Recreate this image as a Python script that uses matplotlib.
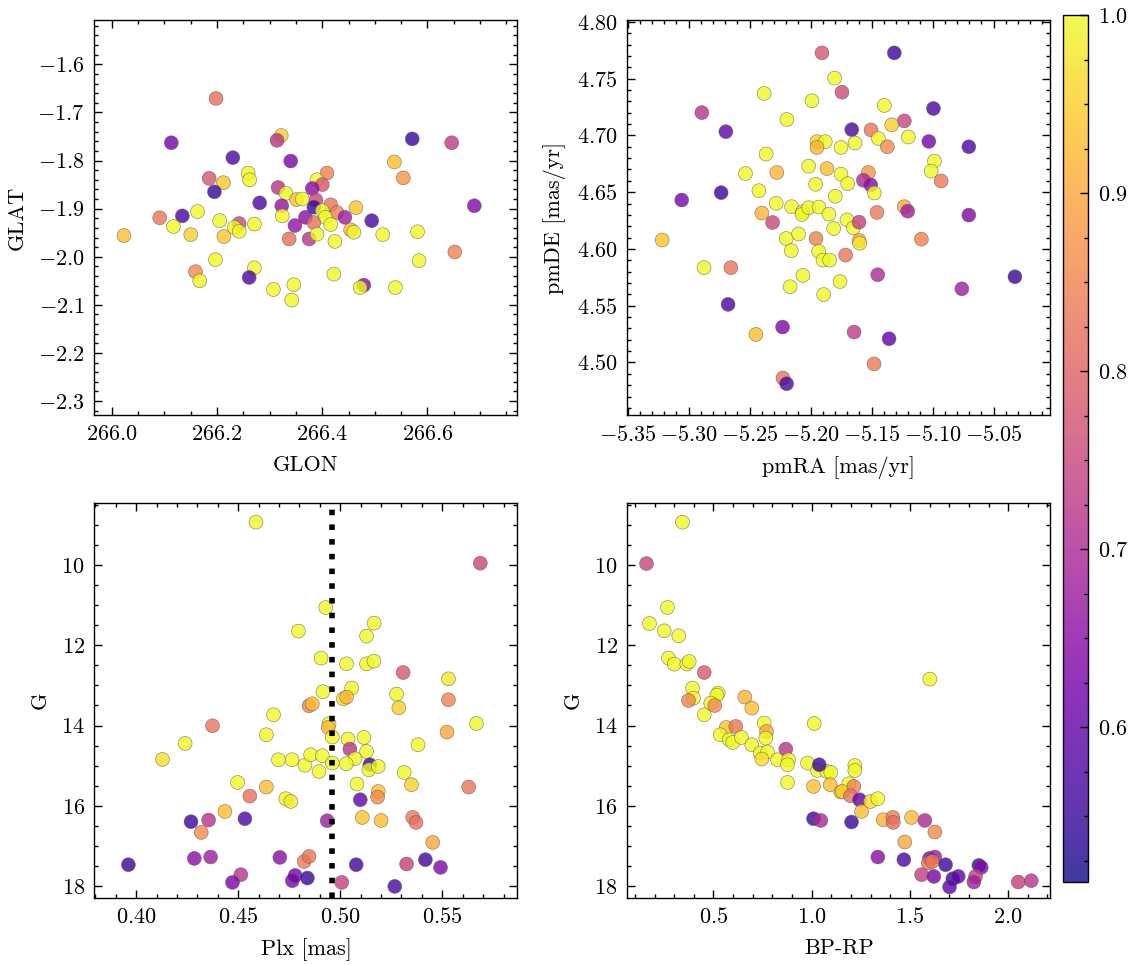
import matplotlib
matplotlib.use("Agg")
import matplotlib.pyplot as plt
from matplotlib.ticker import MultipleLocator

plt.rcParams.update({
    'font.family': 'serif',
    'font.serif': ['cmr10'],
    'mathtext.fontset': 'cm',
    'axes.formatter.use_mathtext': True,
    'font.size': 8,
    'axes.linewidth': 0.5,
    'xtick.direction': 'in', 'ytick.direction': 'in',
    'xtick.top': True, 'ytick.right': True,
    'xtick.minor.visible': True, 'ytick.minor.visible': True,
    'xtick.major.size': 3, 'ytick.major.size': 3,
    'xtick.minor.size': 1.5, 'ytick.minor.size': 1.5,
    'xtick.major.width': 0.5, 'ytick.major.width': 0.5,
    'xtick.minor.width': 0.5, 'ytick.minor.width': 0.5,
})

# --- sky positions (GLON / GLAT) ---
glon = [266.198, 266.113, 266.230, 266.322, 266.314, 266.340, 266.259, 266.262, 266.185, 266.212,
        266.195, 266.281, 266.316, 266.331, 266.351, 266.323, 266.324, 266.163, 266.134, 266.091,
        266.117, 266.023, 266.150, 266.205, 266.213, 266.242, 266.233, 266.242, 266.271, 266.337,
        266.348, 266.197, 266.159, 266.167, 266.271, 266.261, 266.307, 266.346, 266.342,
        266.571, 266.646, 266.537, 266.554, 266.689, 266.409, 266.390, 266.400, 266.381, 266.362,
        266.388, 266.384, 266.416, 266.428, 266.464, 266.400, 266.406, 266.368, 266.384, 266.416,
        266.443, 266.454, 266.460, 266.494, 266.375, 266.390, 266.424, 266.515, 266.581, 266.652,
        266.584, 266.422, 266.479, 266.472, 266.539]
glat = [-1.671, -1.763, -1.794, -1.748, -1.758, -1.801, -1.826, -1.840, -1.837, -1.846,
        -1.865, -1.888, -1.856, -1.868, -1.881, -1.894, -1.915, -1.906, -1.915, -1.919,
        -1.937, -1.956, -1.954, -1.925, -1.958, -1.931, -1.939, -1.947, -1.932, -1.963,
        -1.935, -2.006, -2.031, -2.050, -2.023, -2.043, -2.068, -2.058, -2.090,
        -1.755, -1.763, -1.803, -1.836, -1.894, -1.826, -1.840, -1.850, -1.858, -1.880,
        -1.882, -1.897, -1.892, -1.908, -1.898, -1.904, -1.918, -1.918, -1.929, -1.933,
        -1.918, -1.944, -1.949, -1.925, -1.963, -1.953, -1.968, -1.954, -1.948, -1.990,
        -2.008, -2.036, -2.059, -2.064, -2.064]
p_pos = [.82, .62, .57, .95, .72, .63, 1.0, 1.0, .78, .94,
         .55, .57, .72, 1.0, .93, .66, 1.0, 1.0, .57, .83,
         1.0, .93, .95, 1.0, .94, .75, 1.0, 1.0, 1.0, .82,
         .66, 1.0, .86, 1.0, 1.0, .57, 1.0, 1.0, 1.0,
         .55, .73, .93, .88, .64, .85, 1.0, .78, .65, 1.0,
         .75, .55, .83, .85, .94, 1.0, 1.0, .65, .82, 1.0,
         .68, .92, 1.0, .57, .72, 1.0, 1.0, 1.0, 1.0, .85,
         1.0, 1.0, .65, 1.0, 1.0]

# --- proper motions ---
pmra = [-5.1907, -5.1803, -5.1743, -5.2381, -5.1989, -5.2892, -5.2195, -5.2695, -5.1948, -5.1880,
        -5.1948, -5.1751, -5.2365, -5.2277, -5.2534, -5.2016, -5.1866, -5.1751, -5.1959, -5.2734,
        -5.3057, -5.2424, -5.1798, -5.2282, -5.2156, -5.2066, -5.2071, -5.2016, -5.1932, -5.1850,
        -5.2400, -5.2312, -5.1811, -5.3218, -5.2200, -5.2099, -5.2159, -5.1956, -5.1934, -5.1899,
        -5.1844, -5.1713, -5.2874, -5.2654, -5.2063, -5.2168, -5.1893, -5.1759, -5.2677, -5.2230,
        -5.2449, -5.2227, -5.2197,
        -5.1314, -5.1396, -5.1232, -5.1335, -5.0993, -5.1663, -5.1505, -5.1445, -5.1371, -5.1199,
        -5.1031, -5.0703, -5.1636, -5.0985, -5.1012, -5.0930, -5.1527, -5.1568, -5.1507, -5.1478,
        -5.1696, -5.1456, -5.1232, -5.1204, -5.0703, -5.1702, -5.1650, -5.1603, -5.1603, -5.1598,
        -5.1092, -5.1450, -5.0325, -5.0760, -5.1644, -5.1357, -5.1480]
pmde = [4.7727, 4.7505, 4.7381, 4.7370, 4.7305, 4.7201, 4.7140, 4.7033, 4.6945, 4.6945,
        4.6894, 4.6894, 4.6836, 4.6673, 4.6664, 4.6729, 4.6708, 4.6659, 4.6570, 4.6496,
        4.6431, 4.6513, 4.6464, 4.6402, 4.6372, 4.6327, 4.6304, 4.6363, 4.6369, 4.6307,
        4.6316, 4.6233, 4.6180, 4.6079, 4.6092, 4.6132, 4.5985, 4.6092, 4.5979, 4.5902,
        4.5902, 4.5946, 4.5835, 4.5835, 4.5767, 4.5667, 4.5598, 4.5713, 4.5512, 4.5312,
        4.5247, 4.4863, 4.4813,
        4.7727, 4.7264, 4.7128, 4.7093, 4.7237, 4.7051, 4.7048, 4.6974, 4.6900, 4.6986,
        4.6947, 4.6900, 4.6933, 4.6774, 4.6685, 4.6599, 4.6673, 4.6605, 4.6564, 4.6493,
        4.6575, 4.6322, 4.6372, 4.6333, 4.6298, 4.6256, 4.6186, 4.6236, 4.6074, 4.6050,
        4.6086, 4.5773, 4.5755, 4.5649, 4.5268, 4.5209, 4.4987]
p_pm = [.78, 1.0, .76, 1.0, 1.0, .72, 1.0, .60, .95, 1.0,
        .92, 1.0, 1.0, .92, 1.0, 1.0, .93, 1.0, 1.0, .55,
        .63, 1.0, 1.0, 1.0, 1.0, 1.0, 1.0, 1.0, 1.0, 1.0,
        .92, .75, 1.0, .94, 1.0, 1.0, 1.0, .85, 1.0, 1.0,
        1.0, .83, 1.0, .83, 1.0, 1.0, 1.0, 1.0, .57, .64,
        .93, .83, .57,
        .55, 1.0, .75, .95, .57, .57, .83, 1.0, .86, 1.0,
        .63, .57, 1.0, 1.0, 1.0, .84, .88, .70, .65, 1.0,
        1.0, .84, .90, .68, .64, 1.0, 1.0, .74, .90, .98,
        .85, .70, .55, .68, .73, .60, .84]

# --- parallax vs G ---
plx = [0.4587, 0.4795, 0.4847, 0.4673, 0.4374, 0.4638, 0.4240, 0.4129, 0.4697, 0.4764,
       0.4827, 0.4497, 0.4638, 0.4557, 0.4733, 0.4758, 0.4435, 0.4269, 0.4355, 0.4533,
       0.4319, 0.3962, 0.4285, 0.4365, 0.4704, 0.4513, 0.4472, 0.4779, 0.4765, 0.4839,
       0.4823, 0.4847,
       0.5686, 0.4929, 0.5166, 0.5129, 0.4906, 0.5031, 0.5129, 0.5165, 0.5308, 0.5530,
       0.4915, 0.5056, 0.5015, 0.5031, 0.4863, 0.5276, 0.5287, 0.5530, 0.5667, 0.5523,
       0.4945, 0.4941, 0.4961, 0.5038, 0.5116, 0.5047, 0.5129, 0.5072, 0.4855, 0.4912,
       0.4896, 0.4961, 0.5029, 0.5145, 0.5140, 0.5186, 0.5381, 0.5313, 0.5349, 0.5082,
       0.5186, 0.5183, 0.5098, 0.5629, 0.4936, 0.5108, 0.5200, 0.5355, 0.5371, 0.5453,
       0.5078, 0.5325, 0.5417, 0.5491, 0.5007, 0.5267]
g_plx = [8.938, 11.649, 13.507, 13.731, 14.005, 14.229, 14.445, 14.843, 14.851, 14.851,
         14.988, 15.415, 15.530, 15.754, 15.821, 15.888, 16.137, 16.393, 16.351, 16.318,
         16.659, 17.463, 17.306, 17.271, 17.281, 17.711, 17.903, 17.729, 17.861, 17.794,
         17.381, 17.256,
         9.958, 11.062, 11.450, 11.774, 12.321, 12.463, 12.463, 12.396, 12.679, 12.836,
         13.159, 13.067, 13.333, 13.291, 13.458, 13.216, 13.557, 13.358, 13.948, 14.162,
         13.955, 14.047, 14.286, 14.336, 14.296, 14.585, 14.644, 14.826, 14.726, 14.751,
         15.142, 14.933, 14.950, 14.975, 15.100, 15.017, 14.478, 15.167, 15.473, 15.455,
         15.639, 15.779, 15.846, 15.530, 16.368, 16.286, 16.361, 16.286, 16.410, 16.908,
         17.463, 17.445, 17.338, 17.530, 17.903, 18.002]
p_plx = [1.0, 1.0, .85, 1.0, .83, 1.0, 1.0, .97, 1.0, 1.0,
         1.0, 1.0, .93, .82, 1.0, .98, .93, .55, .72, .57,
         .86, .55, .65, .68, .65, .72, .63, .62, .63, .55,
         .84, .83,
         .75, 1.0, 1.0, 1.0, 1.0, 1.0, 1.0, 1.0, .78, .98,
         1.0, 1.0, .97, .92, .93, 1.0, .95, .85, 1.0, .90,
         1.0, .92, 1.0, 1.0, 1.0, .72, 1.0, 1.0, 1.0, 1.0,
         1.0, 1.0, 1.0, .55, 1.0, 1.0, 1.0, 1.0, .95, 1.0,
         .93, .86, .60, .83, .68, .94, .93, .84, .82, .90,
         .56, .74, .56, .64, .74, .57]
plx_ref = 0.496

# --- colour-magnitude diagram ---
bprp = [0.3422, 0.1589, 0.2658, 0.1741, 0.2490, 0.3233, 0.2709, 0.2999, 0.3640, 0.3763,
        0.4526, 0.3931, 0.3982, 0.3727, 0.4526, 0.5239, 0.5168, 0.4863, 0.5066, 0.6594,
        0.6950, 0.7581, 0.7699, 0.7663, 0.5647, 0.6135, 0.5341, 0.5799, 0.5983, 0.6426,
        0.6950, 0.7378, 0.7750, 0.7459, 0.8259, 0.8681, 0.8819, 0.8768, 0.8768, 1.0127,
        0.9786, 1.0295, 1.0769, 1.0972, 1.0382, 1.0092, 1.0942, 1.1482, 1.0092, 1.0463,
        1.6013, 1.2195, 1.2195, 1.1889, 1.1553, 1.2144, 1.1976, 1.2434, 1.2994, 1.3366,
        1.2536, 1.2026, 1.3641, 1.4129, 1.4150, 1.5081, 1.5759, 1.6268, 1.4740, 1.3366,
        1.4690, 1.6000, 1.6268, 1.5932, 1.6136, 1.6813, 1.5591, 1.6217, 1.7184, 1.7459,
        1.7016, 1.8508, 1.8630, 1.8340, 1.8254, 2.0514, 2.1176]
g_cmd = [8.938, 9.968, 11.062, 11.460, 11.642, 11.766, 12.321, 12.470, 12.470, 12.405,
         12.679, 13.067, 13.316, 13.376, 13.731, 13.192, 13.241, 13.440, 13.500, 13.291,
         13.565, 13.938, 14.147, 14.311, 14.047, 14.022, 14.229, 14.353, 14.420, 14.296,
         14.478, 14.684, 14.659, 14.833, 14.851, 14.585, 14.851, 14.975, 15.415, 13.948,
         14.933, 15.117, 15.142, 15.167, 14.975, 15.515, 15.473, 15.654, 16.318, 16.361,
         12.843, 14.993, 15.117, 15.448, 15.639, 15.515, 15.746, 15.846, 15.888, 15.821,
         16.137, 16.400, 16.343, 16.286, 16.410, 16.286, 16.361, 16.649, 16.898, 17.271,
         17.338, 17.306, 17.271, 17.420, 17.381, 17.463, 17.711, 17.754, 17.811, 17.754,
         18.017, 17.480, 17.530, 17.754, 17.893, 17.893, 17.861]
p_cmd = [1.0, .75, 1.0, 1.0, 1.0, 1.0, 1.0, 1.0, 1.0, 1.0,
         .78, 1.0, 1.0, .85, 1.0, 1.0, 1.0, 1.0, .86, .92,
         .93, 1.0, .90, 1.0, .93, .83, 1.0, 1.0, 1.0, 1.0,
         1.0, 1.0, 1.0, .97, 1.0, .72, 1.0, 1.0, 1.0, 1.0,
         1.0, 1.0, 1.0, 1.0, .55, .93, .93, .93, .55, .70,
         1.0, 1.0, 1.0, 1.0, .95, .85, .83, .60, .97, 1.0,
         .93, .55, .92, .84, .82, .93, .70, .86, .90, .65,
         .57, .63, .68, .83, .84, .56, .74, .63, .55, .60,
         .60, .55, .64, .74, .68, .74, .72]

vmin, vmax = 0.513, 1.0
kw = dict(cmap='plasma', vmin=vmin, vmax=vmax, s=25, alpha=0.8,
          edgecolors='0.35', linewidths=0.2)

fig = plt.figure(figsize=(5.665, 4.825), dpi=200)
ax1 = fig.add_axes([0.0834, 0.5699, 0.3733, 0.4093])
ax2 = fig.add_axes([0.5538, 0.5699, 0.3733, 0.4093])
ax3 = fig.add_axes([0.0834, 0.0699, 0.3733, 0.4093])
ax4 = fig.add_axes([0.5538, 0.0699, 0.3733, 0.4093])
cax = fig.add_axes([0.9382, 0.0860, 0.0221, 0.8984])

ax1.scatter(glon, glat, c=p_pos, **kw)
ax1.set_xlim(265.967, 266.771)
ax1.set_ylim(-2.329, -1.508)
ax1.yaxis.set_major_locator(MultipleLocator(0.1))
ax1.yaxis.set_minor_locator(MultipleLocator(0.02))
ax1.set_xlabel('GLON')
ax1.set_ylabel('GLAT')

ax2.scatter(pmra, pmde, c=p_pm, **kw)
ax2.set_xlim(-5.3502, -5.0034)
ax2.set_ylim(4.4537, 4.8016)
ax2.xaxis.set_major_locator(MultipleLocator(0.05))
ax2.xaxis.set_minor_locator(MultipleLocator(0.01))
ax2.set_xlabel('pmRA [mas/yr]')
ax2.set_ylabel('pmDE [mas/yr]')

ax3.scatter(plx, g_plx, c=p_plx, **kw)
ax3.axvline(plx_ref, color='k', ls=':', lw=2)
ax3.set_xlim(0.3796, 0.5868)
ax3.set_ylim(18.28, 8.45)
ax3.set_xlabel('Plx [mas]')
ax3.set_ylabel('G')

sc = ax4.scatter(bprp, g_cmd, c=p_cmd, **kw)
ax4.set_xlim(0.062, 2.215)
ax4.set_ylim(18.28, 8.45)
ax4.set_xlabel('BP-RP')
ax4.set_ylabel('G')

cb = fig.colorbar(sc, cax=cax)
cb.outline.set_linewidth(0.5)
cb.set_ticks([0.6, 0.7, 0.8, 0.9, 1.0])
cax.yaxis.set_minor_locator(MultipleLocator(0.025))
cax.tick_params(which='both', direction='in', left=False, right=True)

fig.savefig('out.png', dpi=200)
